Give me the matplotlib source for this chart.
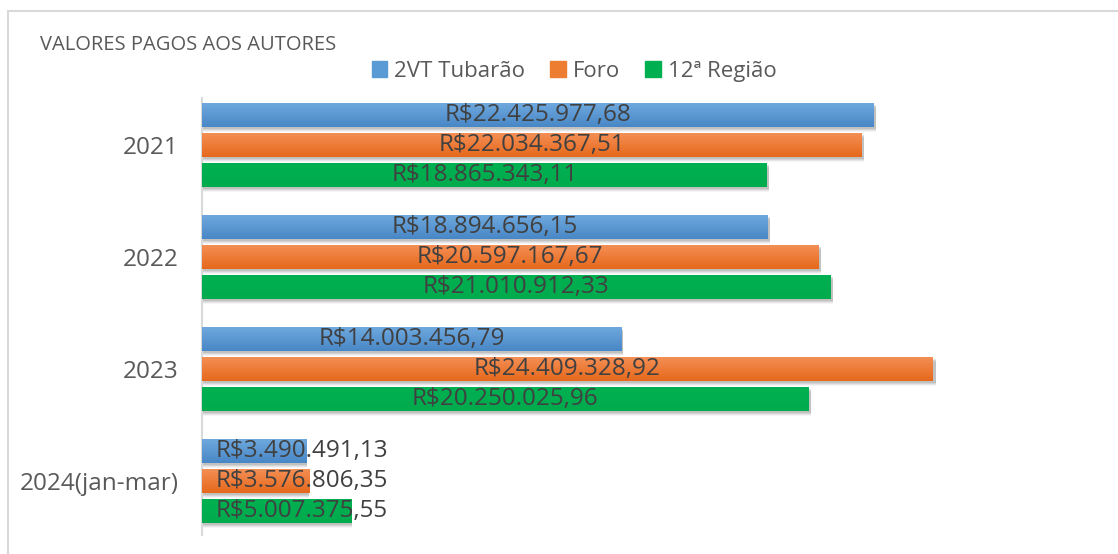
import numpy as np
import matplotlib.pyplot as plt
from matplotlib.patches import Rectangle
from matplotlib.colors import LinearSegmentedColormap

# dados do grafico
anos = ['2021', '2022', '2023', '2024(jan-mar)']
series = ['2VT Tubarão', 'Foro', '12ª Região']
tubarao = [22425977.68, 18894656.15, 14003456.79, 3490491.13]
foro = [22034367.51, 20597167.67, 24409328.92, 3576806.35]
regiao = [18865343.11, 21010912.33, 20250025.96, 5007375.55]

# cores (topo, base) do degrade de cada serie
cores = [('#6ea8de', '#4887c6'), ('#f48f55', '#e6681b'), ('#00b050', '#00ab4e')]
cor_legenda = ['#5b9bd5', '#ed7d31', '#00b050']

plt.rcParams['font.family'] = ['Open Sans', 'DejaVu Sans']


def brl(v):
    s = f'{v:,.2f}'
    s = s.replace(',', 'X').replace('.', ',').replace('X', '.')
    return 'R$' + s


fig = plt.figure(figsize=(11.18, 5.54), dpi=100)
fig.patches.append(Rectangle((8 / 1118, -0.1), 1.2, 1 - 11 / 554 + 0.1,
                             transform=fig.transFigure, fill=False,
                             edgecolor='#d9d9d9', linewidth=1.5))
ax = fig.add_axes([202 / 1118, 19 / 554, 898 / 1118, 437 / 554])

y = np.arange(len(anos))
h = 0.214
passo = 0.268
todas = [tubarao, foro, regiao]

for k, vals in enumerate(todas):
    pos = y + (k - 1) * passo
    # sombra
    for d, a in [(0.045, 0.06), (0.035, 0.09), (0.025, 0.12), (0.015, 0.15)]:
        ax.barh(pos + d, np.array(vals) * 1.004, height=h, left=0, color='#555555',
                alpha=a, linewidth=0, zorder=1)
    bars = ax.barh(pos, vals, height=h, color=cor_legenda[k], linewidth=0,
                   zorder=2, label=series[k])
    cmap = LinearSegmentedColormap.from_list('g%d' % k, [cores[k][0], cores[k][1]])
    grad = np.linspace(0, 1, 64).reshape(-1, 1)
    for b in bars:
        x0, y0 = b.get_x(), b.get_y()
        im = ax.imshow(grad, cmap=cmap, aspect='auto', zorder=3,
                       extent=(x0, x0 + b.get_width(), y0 + b.get_height(), y0),
                       interpolation='bilinear')
        im.set_clip_path(b)
    for p, v in zip(pos, vals):
        if v < 8e6:
            ax.annotate(brl(v), (0, p), xytext=(10, 0), textcoords='offset points',
                        ha='left', va='center', fontsize=17.5, color='#404040', zorder=5)
        else:
            ax.text(v / 2, p, brl(v), ha='center', va='center',
                    fontsize=17.5, color='#404040', zorder=5)

ax.set_xlim(0, 30e6)
ax.set_ylim(3.48, -0.42)
ax.set_yticks(y)
ax.set_yticklabels(anos, fontsize=17.5, color='#595959')
ax.tick_params(axis='y', length=0, pad=17)
ax.set_xticks([])
for s in ['top', 'right', 'bottom']:
    ax.spines[s].set_visible(False)
ax.spines['left'].set_color('#d9d9d9')
ax.spines['left'].set_linewidth(1.5)

fig.text(40 / 1118, 1 - 45 / 554, 'VALORES PAGOS AOS AUTORES', fontsize=14.5,
         color='#595959', va='center', ha='left')

handles = [Rectangle((0, 0), 1, 1, color=c) for c in cor_legenda]
leg = fig.legend(handles, series, loc='center', bbox_to_anchor=(574 / 1118, 1 - 71 / 554),
                 ncol=3, frameon=False, fontsize=16, handlelength=0.7,
                 handleheight=0.7, handletextpad=0.3, columnspacing=1.15)
for t in leg.get_texts():
    t.set_color('#595959')

fig.savefig('out.png', dpi=100, facecolor='white')
